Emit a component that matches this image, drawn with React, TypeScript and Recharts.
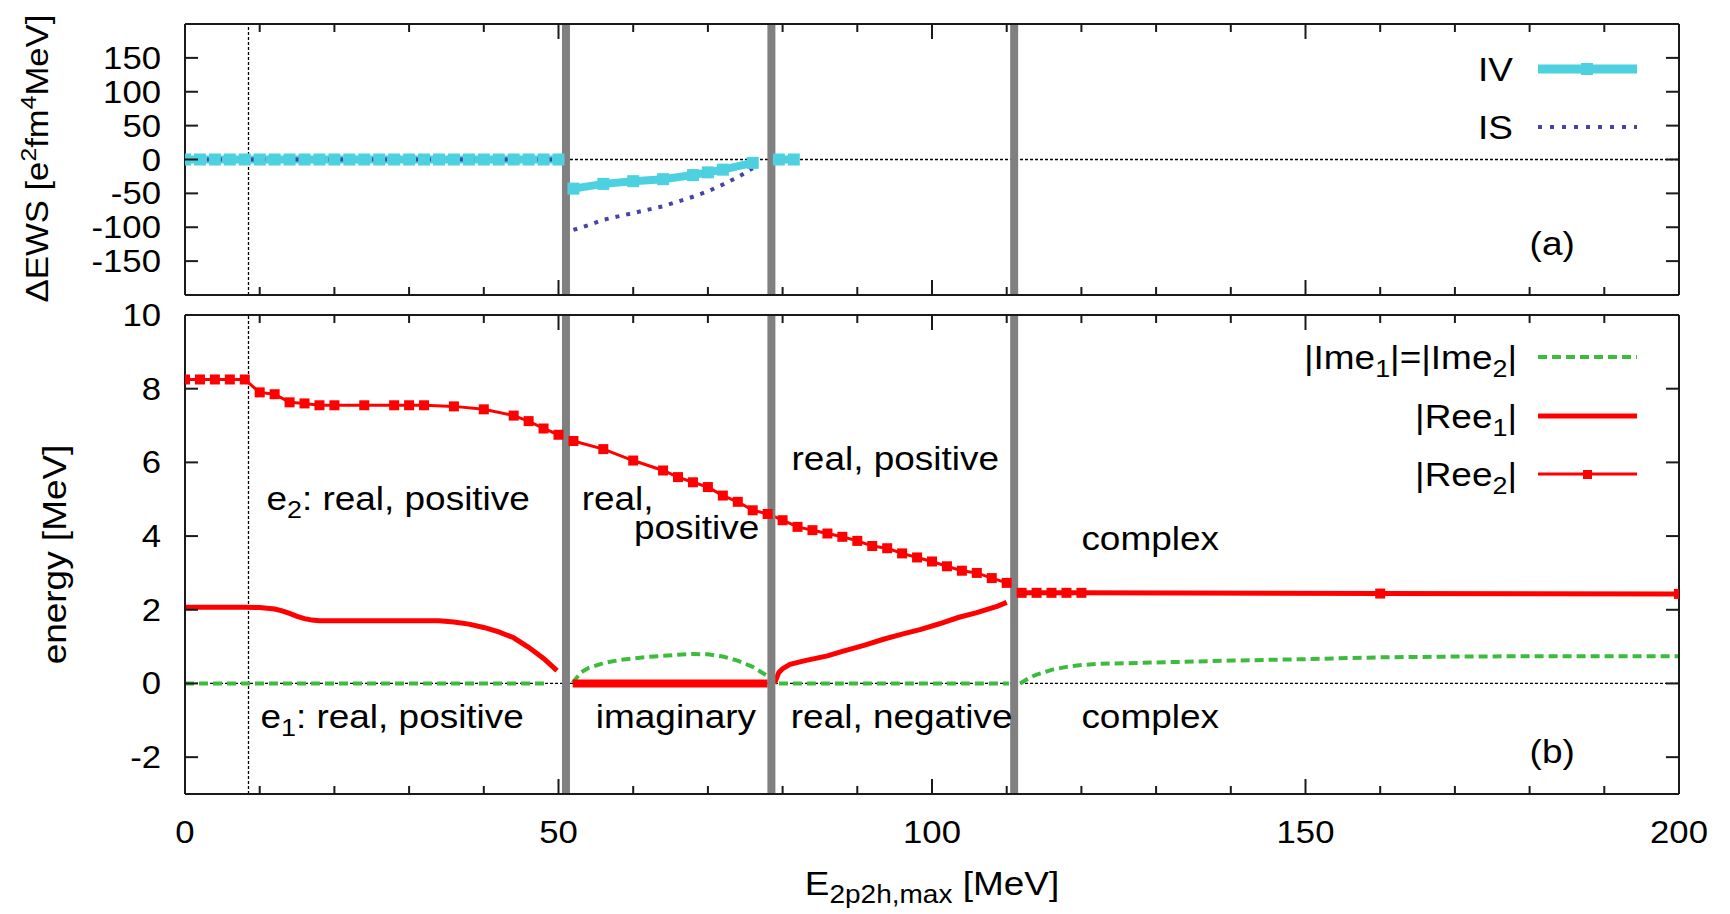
import React from 'react';
import { LineChart, Line, XAxis, YAxis, ReferenceLine, ReferenceDot, Legend } from 'recharts';

// ---------- axes ----------
const xTicks = [0, 10, 20, 30, 40, 50, 60, 70, 80, 90, 100, 110, 120, 130, 140, 150, 160, 170, 180, 190, 200];
const ewsTicks = [-150, -100, -50, 0, 50, 100, 150];
const energyTicks = [-2, 0, 2, 4, 6, 8, 10];

// region boundaries (MeV) and the cutoff marker
const regionBounds = [51, 78.5, 111];
const cutoffMark = 8.5;

// ---------- panel (a): EWS differences ----------
const ivX = [0, 2, 4, 6, 8, 10, 12, 14, 16, 18, 20, 22, 24, 26, 28, 30, 32, 34, 36, 38, 40, 42, 44, 46, 48, 50, 51,
  52, 56, 60, 64, 68, 70, 72, 76, 78, 79.5, 81.5];
const ivY = [0, 0, 0, 0, 0, 0, 0, 0, 0, 0, 0, 0, 0, 0, 0, 0, 0, 0, 0, 0, 0, 0, 0, 0, 0, 0, null,
  -43, -36, -32, -29, -23, -19, -15, -5, null, 0, 0];

const isX = [0, 2, 4, 6, 8, 10, 12, 14, 16, 18, 20, 22, 24, 26, 28, 30, 32, 34, 36, 38, 40, 42, 44, 46, 48, 50, 51,
  52, 54, 56, 58, 60, 62, 64, 66, 68, 70, 72, 74, 76, 78, 79.5, 81.5];
const isY = [0, 0, 0, 0, 0, 0, 0, 0, 0, 0, 0, 0, 0, 0, 0, 0, 0, 0, 0, 0, 0, 0, 0, 0, 0, 0, null,
  -104, -97, -89, -84, -79, -74, -69, -62, -55, -47, -37, -26, -13, null, 0, 0];

// ---------- panel (b): eigenvalues ----------
const imX = [0, 48.5, 50, 51.9, 53, 54, 56, 58, 60, 62, 64, 66, 68, 70, 72, 74, 76, 78, 78.5, 79.5, 110.3, 111,
  111.8, 113, 114, 116, 118, 120, 122, 130, 140, 150, 160, 170, 180, 190, 200];
const imY = [0, 0, null, 0.02, 0.3, 0.42, 0.55, 0.63, 0.68, 0.72, 0.75, 0.78, 0.8, 0.79, 0.73, 0.62, 0.45, 0.2, null, 0, 0, null,
  0, 0.15, 0.24, 0.37, 0.45, 0.5, 0.53, 0.57, 0.62, 0.66, 0.71, 0.73, 0.74, 0.74, 0.74];

const ree1X = [0, 2, 4, 6, 8, 10, 12, 13, 14, 15, 16, 17, 18, 20, 24, 28, 32, 34, 36, 38, 40, 42, 44, 46, 48, 49.8, 50.5,
  78.9, 79.5, 80, 81, 83, 86, 88, 91, 93.5, 96, 98.5, 101, 103.5, 106, 108.8, 110, 111,
  111.6, 120, 160, 200];
const ree1Y = [2.07, 2.07, 2.07, 2.07, 2.07, 2.06, 2.02, 1.97, 1.9, 1.82, 1.76, 1.72, 1.7, 1.7, 1.7, 1.7, 1.7, 1.7, 1.67, 1.61, 1.52, 1.4, 1.24, 0.98, 0.68, 0.35, null,
  0, 0.3, 0.4, 0.52, 0.62, 0.75, 0.87, 1.04, 1.2, 1.34, 1.47, 1.62, 1.79, 1.92, 2.1, 2.2, null,
  2.46, 2.46, 2.44, 2.43];

// |Re e1| vanishes where e1 is purely imaginary
const ree1ImagX = [51.9, 78.0];
const ree1ImagY = [0, 0];

const ree2X = [0, 2, 4, 6, 8, 10, 12, 14, 16, 18, 20, 24, 28, 30, 32, 36, 40, 44, 46, 48, 50, 52,
  56, 60, 64, 66, 68, 70, 72, 74, 76, 78, 80, 82, 84, 86, 88, 90, 92, 94, 96, 98, 100, 102, 104, 106, 108, 110,
  112, 114, 116, 118, 120, 160, 200];
const ree2Y = [8.25, 8.25, 8.25, 8.25, 8.25, 7.9, 7.85, 7.63, 7.6, 7.55, 7.55, 7.55, 7.55, 7.55, 7.55, 7.52, 7.44, 7.27, 7.12, 6.92, 6.75, 6.58,
  6.36, 6.05, 5.78, 5.6, 5.46, 5.33, 5.1, 4.93, 4.7, 4.6, 4.43, 4.25, 4.16, 4.07, 3.98, 3.87, 3.73, 3.67, 3.53, 3.42, 3.31, 3.18, 3.06, 3.0, 2.86, 2.73,
  2.46, 2.46, 2.46, 2.46, 2.46, 2.44, 2.43];

const zip = (xs: number[], ys: (number | null)[]) => xs.map((x, i) => ({ x, y: ys[i] }));
const ivData = zip(ivX, ivY);
const isData = zip(isX, isY);
const imData = zip(imX, imY);
const ree1Data = zip(ree1X, ree1Y);
const ree1ImagData = zip(ree1ImagX, ree1ImagY);
const ree2Data = zip(ree2X, ree2Y);

// ---------- styling ----------
const FONT = '"Liberation Sans", Arial, Helvetica, sans-serif';
const SX = 1.12;
const TEXT_SIZE = 33;
const TICK_SIZE = 31;
const CYAN = '#4dd0df';
const BLUE = '#4444aa';
const GREEN = '#3dbb3d';
const RED = '#ff0000';
const GRAY = '#808080';
const INK = '#1a1a1a';

type STextProps = { x: number; y: number; size?: number; anchor?: 'start' | 'middle' | 'end'; rotate?: boolean; children: React.ReactNode };
const SText = ({ x, y, size = TEXT_SIZE, anchor = 'start', rotate = false, children }: STextProps) => (
  <text
    transform={`translate(${x},${y})${rotate ? ' rotate(-90)' : ''} scale(${SX},1)`}
    textAnchor={anchor}
    fontFamily={FONT}
    fontSize={size}
    fill="#000"
  >
    {children}
  </text>
);

const Sub = ({ t, size = 24, d = 8 }: { t: string; size?: number; d?: number }) => (
  <tspan dy={d} fontSize={size}>{t}</tspan>
);

const SquareDot = (props: any) => {
  const { cx, cy, size, color } = props;
  if (cx == null || cy == null || Number.isNaN(cx) || Number.isNaN(cy)) return null;
  return <rect x={cx - size / 2} y={cy - size / 2} width={size} height={size} fill={color} />;
};

// ---------- tick renderers ----------
const BottomTick = (props: any) => {
  const { x, y, payload, showLabel } = props;
  const v = payload.value as number;
  const major = v % 50 === 0;
  return (
    <g>
      <line x1={x} x2={x} y1={y} y2={y - (major ? 15 : 8)} stroke={INK} strokeWidth={2} />
      {showLabel && major ? <SText x={x} y={y + 49} size={TICK_SIZE} anchor="middle">{v}</SText> : null}
    </g>
  );
};

const TopTick = (props: any) => {
  const { x, y, payload } = props;
  const v = payload.value as number;
  const major = v % 50 === 0;
  return <line x1={x} x2={x} y1={y} y2={y + (major ? 15 : 8)} stroke={INK} strokeWidth={2} />;
};

const LeftTick = (props: any) => {
  const { x, y, payload } = props;
  return (
    <g>
      <line x1={x} x2={x + 13} y1={y} y2={y} stroke={INK} strokeWidth={2} />
      <SText x={x - 24} y={y + 11} size={TICK_SIZE} anchor="end">{payload.value}</SText>
    </g>
  );
};

const RightTick = (props: any) => {
  const { x, y } = props;
  return <line x1={x} x2={x - 13} y1={y} y2={y} stroke={INK} strokeWidth={2} />;
};

const axisLine = { stroke: INK, strokeWidth: 2 };

// ---------- legends ----------
const TopLegend = () => (
  <svg width={380} height={130} style={{ overflow: 'visible' }}>
    <SText x={213} y={51} anchor="end">IV</SText>
    <line x1={238} x2={337} y1={39} y2={39} stroke={CYAN} strokeWidth={9} />
    <rect x={281} y={33} width={12} height={12} fill={CYAN} />
    <SText x={213} y={109} anchor="end">IS</SText>
    <line x1={238} x2={337} y1={97} y2={97} stroke={BLUE} strokeWidth={4} strokeDasharray="4 8" />
  </svg>
);

const BottomLegend = () => (
  <svg width={480} height={190} style={{ overflow: 'visible' }}>
    <SText x={317} y={44} anchor="end">
      |Ime<Sub t="1" />
      <tspan dy={-8}>|=|Ime</tspan>
      <Sub t="2" />
      <tspan dy={-8}>|</tspan>
    </SText>
    <line x1={338} x2={437} y1={32} y2={32} stroke={GREEN} strokeWidth={4} strokeDasharray="9 5" />
    <SText x={317} y={103} anchor="end">
      |Ree<Sub t="1" />
      <tspan dy={-8}>|</tspan>
    </SText>
    <line x1={338} x2={437} y1={91} y2={91} stroke={RED} strokeWidth={5} />
    <SText x={317} y={161} anchor="end">
      |Ree<Sub t="2" />
      <tspan dy={-8}>|</tspan>
    </SText>
    <line x1={338} x2={437} y1={149} y2={149} stroke={RED} strokeWidth={3} />
    <rect x={383} y={145} width={9} height={9} fill={RED} />
  </svg>
);

// text placed at a data position (baseline-left by default)
const note = (x: number, y: number, body: React.ReactNode, anchor: 'start' | 'middle' | 'end' = 'start') => (
  <ReferenceDot
    key={`${x}-${y}`}
    x={x}
    y={y}
    r={0}
    ifOverflow="visible"
    isFront
    shape={(p: any) => <SText x={p.cx} y={p.cy} anchor={anchor}>{body}</SText>}
  />
);

export default function App() {
  return (
    <div style={{ position: 'absolute', left: 0, top: 0, width: 1730, height: 914, background: '#fff', overflow: 'hidden' }}>
      {/* panel (a) */}
      <div style={{ position: 'absolute', left: 0, top: 0 }}>
        <LineChart width={1730} height={305} margin={{ top: 0, right: 0, bottom: 0, left: 0 }}>
          <XAxis dataKey="x" type="number" domain={[0, 200]} ticks={xTicks} interval={0} allowDataOverflow
            height={10} tickSize={0} tickMargin={0} tickLine={false} axisLine={axisLine}
            tick={<BottomTick showLabel={false} />} />
          <XAxis xAxisId="top" orientation="top" dataKey="x" type="number" domain={[0, 200]} ticks={xTicks} interval={0}
            allowDataOverflow height={24} tickSize={0} tickMargin={0} tickLine={false} axisLine={axisLine} tick={<TopTick />} />
          <YAxis type="number" domain={[-200, 200]} ticks={ewsTicks} interval={0} allowDataOverflow width={185}
            tickSize={0} tickMargin={0} tickLine={false} axisLine={axisLine} tick={<LeftTick />}
            label={{
              content: (p: any) => (
                <SText x={48} y={p.viewBox.y + p.viewBox.height / 2 - 1} size={31} anchor="middle" rotate>
                  ΔEWS [e<tspan dy={-12} fontSize={22}>2</tspan>
                  <tspan dy={12}>fm</tspan>
                  <tspan dy={-12} fontSize={22}>4</tspan>
                  <tspan dy={12}>MeV]</tspan>
                </SText>
              ),
            }} />
          <YAxis yAxisId="r" orientation="right" type="number" domain={[-200, 200]} ticks={ewsTicks} interval={0}
            allowDataOverflow width={51} tickSize={0} tickMargin={0} tickLine={false} axisLine={axisLine} tick={<RightTick />} />

          <ReferenceLine y={0} stroke="#000" strokeWidth={1.3} strokeDasharray="3 2" zIndex={350} />
          <ReferenceLine x={cutoffMark} stroke="#000" strokeWidth={1.3} strokeDasharray="3 2" zIndex={350} />

          <Line data={ivData} dataKey="y" type="linear" stroke={CYAN} strokeWidth={8} connectNulls={false}
            dot={<SquareDot size={12} color={CYAN} />} activeDot={false} legendType="none" isAnimationActive={false} />
          <Line data={isData} dataKey="y" type="linear" stroke={BLUE} strokeWidth={4} strokeDasharray="4 7" connectNulls={false}
            dot={false} activeDot={false} legendType="none" isAnimationActive={false} />

          {regionBounds.map((b) => (
            <ReferenceLine key={b} x={b} stroke={GRAY} strokeWidth={8} zIndex={450} />
          ))}

          {note(180, -140.5, '(a)')}

          <Legend layout="horizontal" verticalAlign="middle" align="center"
            wrapperStyle={{ left: 1300, top: 30, width: 380, height: 130 }} content={TopLegend} />
        </LineChart>
      </div>

      {/* panel (b) */}
      <div style={{ position: 'absolute', left: 0, top: 280 }}>
        <LineChart width={1730} height={634} margin={{ top: 0, right: 0, bottom: 0, left: 0 }}>
          <XAxis dataKey="x" type="number" domain={[0, 200]} ticks={xTicks} interval={0} allowDataOverflow
            height={120} tickSize={0} tickMargin={0} tickLine={false} axisLine={axisLine}
            tick={<BottomTick showLabel />}
            label={{
              content: (p: any) => (
                <SText x={p.viewBox.x + p.viewBox.width / 2} y={p.viewBox.y + 101} anchor="middle">
                  E<Sub t="2p2h,max" size={25} d={8} />
                  <tspan dy={-8}> [MeV]</tspan>
                </SText>
              ),
            }} />
          <XAxis xAxisId="top" orientation="top" dataKey="x" type="number" domain={[0, 200]} ticks={xTicks} interval={0}
            allowDataOverflow height={35} tickSize={0} tickMargin={0} tickLine={false} axisLine={axisLine} tick={<TopTick />} />
          <YAxis type="number" domain={[-3, 10]} ticks={energyTicks} interval={0} allowDataOverflow width={185}
            tickSize={0} tickMargin={0} tickLine={false} axisLine={axisLine} tick={<LeftTick />}
            label={{
              content: (p: any) => (
                <SText x={66} y={p.viewBox.y + p.viewBox.height / 2} anchor="middle" rotate>energy [MeV]</SText>
              ),
            }} />
          <YAxis yAxisId="r" orientation="right" type="number" domain={[-3, 10]} ticks={energyTicks} interval={0}
            allowDataOverflow width={51} tickSize={0} tickMargin={0} tickLine={false} axisLine={axisLine} tick={<RightTick />} />

          <ReferenceLine y={0} stroke="#000" strokeWidth={1.3} strokeDasharray="3 2" zIndex={350} />
          <ReferenceLine x={cutoffMark} stroke="#000" strokeWidth={1.3} strokeDasharray="3 2" zIndex={350} />

          <Line data={imData} dataKey="y" type="linear" stroke={GREEN} strokeWidth={4} strokeDasharray="9 5" connectNulls={false}
            dot={false} activeDot={false} legendType="none" isAnimationActive={false} />
          <Line data={ree1Data} dataKey="y" type="linear" stroke={RED} strokeWidth={5} connectNulls={false}
            dot={false} activeDot={false} legendType="none" isAnimationActive={false} />
          <Line data={ree1ImagData} dataKey="y" type="linear" stroke={RED} strokeWidth={8}
            dot={false} activeDot={false} legendType="none" isAnimationActive={false} />
          <Line data={ree2Data} dataKey="y" type="linear" stroke={RED} strokeWidth={3}
            dot={<SquareDot size={10} color={RED} />} activeDot={false} legendType="none" isAnimationActive={false} />

          {regionBounds.map((b) => (
            <ReferenceLine key={b} x={b} stroke={GRAY} strokeWidth={8} zIndex={450} />
          ))}

          {note(10.9, 4.71, <>e<Sub t="2" /><tspan dy={-8}>: real, positive</tspan></>)}
          {note(53.1, 4.71, 'real,')}
          {note(60.1, 3.93, 'positive')}
          {note(81.2, 5.79, 'real, positive')}
          {note(120, 3.63, 'complex')}
          {note(10.1, -1.22, <>e<Sub t="1" /><tspan dy={-8}>: real, positive</tspan></>)}
          {note(55, -1.22, 'imaginary')}
          {note(81.1, -1.22, 'real, negative')}
          {note(120, -1.22, 'complex')}
          {note(180, -2.15, '(b)')}

          <Legend layout="horizontal" verticalAlign="middle" align="center"
            wrapperStyle={{ left: 1200, top: 45, width: 480, height: 190 }} content={BottomLegend} />
        </LineChart>
      </div>
    </div>
  );
}
